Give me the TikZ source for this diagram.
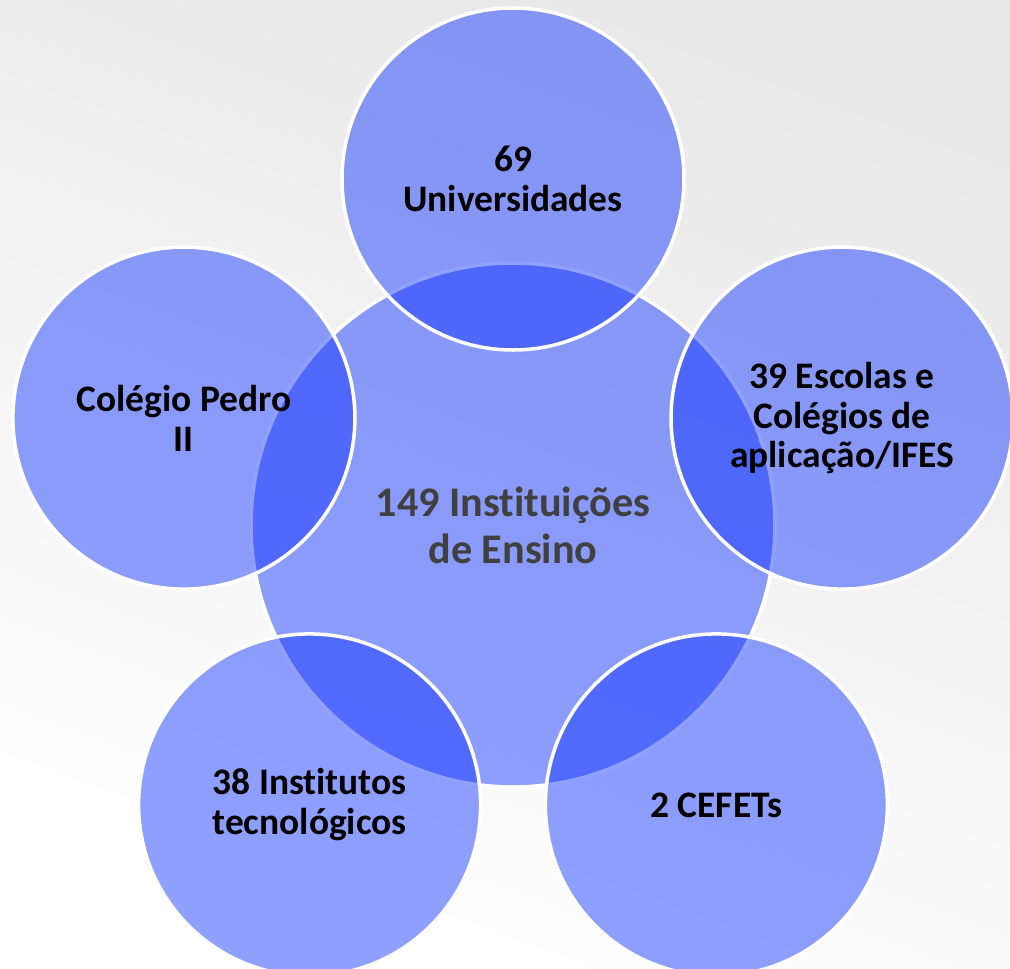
\documentclass[tikz,border=0pt]{standalone}
\usepackage{fontspec}
\setmainfont{Carlito}[Ligatures=NoCommon]

\definecolor{bubbleblue}{RGB}{12,48,255}
\definecolor{hubtext}{RGB}{64,64,64}

\begin{document}
\begin{tikzpicture}[
    bubble/.style={circle, inner sep=0pt, align=center,
      fill=bubbleblue, fill opacity=0.46, text opacity=1,
      draw=white, draw opacity=1, line width=2pt,
      font=\fontsize{21.3}{22.7}\selectfont\bfseries, text=black},
    outer bubble/.style={bubble, minimum size=6.84cm},
  ]

  % ------------------------------------------------------------------
  % page: 1010 x 968 px, 1 px = 0.02 cm, origin at the hub centre
  % ------------------------------------------------------------------
  \def\ring{6.92}     % distance hub -> outer bubbles
  \useasboundingbox (-10.26,-8.86) rectangle (9.94,10.5);

  % light grey backdrop, whiter to the upper right
  \shade[left color=black!9, right color=white, shading angle=-20]
    (-10.26,-8.86) rectangle (9.94,10.5);

  % central bubble
  \node[bubble, minimum size=10.48cm, text=hubtext,
        font=\fontsize{24}{26.9}\selectfont\bfseries]
       (hub) at (0,0) {149 Instituições\\de Ensino};

  % outer bubbles on a pentagon round the hub
  \node[outer bubble] (univ)   at (90:\ring)  {69\\Universidades};
  \node[outer bubble] (pedro)  at (162:\ring) {Colégio Pedro\\II};
  \node[outer bubble] (inst)   at (234:\ring) {38 Institutos\\tecnológicos};
  \node[outer bubble] (cefet)  at (306:\ring) {2 CEFETs};
  \node[outer bubble] (escola) at (18:\ring)
       {39 Escolas e\\Colégios de\\aplicação/IFES};

\end{tikzpicture}
\end{document}
